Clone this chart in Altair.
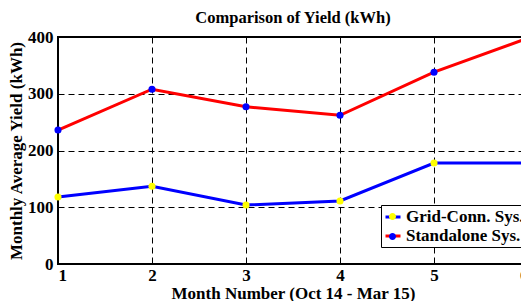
import altair as alt
import pandas as pd

months = [1, 2, 3, 4, 5, 6]
grid_conn = [118, 137, 104, 111, 178, 178]
standalone = [236, 308, 277, 262, 338, 398]
series_names = ["Grid-Conn. Sys.", "Standalone Sys."]
line_colors = ["#0000ff", "#ff0000"]
dot_colors = ["#ffff00", "#0000ff"]

df = pd.DataFrame({
    "month": months * 2,
    "yield": grid_conn + standalone,
    "series": [series_names[0]] * 6 + [series_names[1]] * 6,
})

FONT = "Liberation Serif"
FS = 17

x = alt.X("month:Q", scale=alt.Scale(domain=[1, 6], nice=False),
          axis=alt.Axis(values=months, title="Month Number (Oct 14 - Mar 15)",
                        format="d", titlePadding=2, labelPadding=3))
y = alt.Y("yield:Q", scale=alt.Scale(domain=[0, 400], nice=False),
          axis=alt.Axis(values=[0, 100, 200, 300, 400], title="Monthly Average Yield (kWh)",
                        titlePadding=2, labelPadding=5))

base = alt.Chart(df)

lines = base.mark_line(strokeWidth=3).encode(
    x=x, y=y,
    stroke=alt.Stroke("series:N", scale=alt.Scale(domain=series_names, range=line_colors),
                      legend=alt.Legend(orient="none", legendX=323, legendY=168, title=None,
                                        symbolType="stroke", symbolSize=225, symbolStrokeWidth=3,
                                        strokeColor="black", fillColor="white", padding=3,
                                        labelFont=FONT, labelFontSize=FS, labelFontWeight="bold",
                                        labelColor="black", labelOffset=4, rowPadding=2)),
    detail="series:N",
)

dot_path = "M-0.47,0 A0.47,0.47 0 1,0 0.47,0 A0.47,0.47 0 1,0 -0.47,0 Z"
points = base.mark_point(filled=True, size=50, opacity=1).encode(
    x=x, y=y,
    fill=alt.Fill("series:N", scale=alt.Scale(domain=series_names, range=dot_colors),
                  legend=alt.Legend(orient="none", legendX=323, legendY=168, title=None,
                                    symbolType=dot_path, symbolSize=225, symbolStrokeWidth=0,
                                    symbolOpacity=1, padding=3, labelExpr="''",
                                    labelFont=FONT, labelFontSize=FS, labelFontWeight="bold",
                                    labelColor="transparent", labelOffset=4, rowPadding=2)),
    shape=alt.value("circle"),
)

chart = alt.layer(lines, points).resolve_scale(stroke="independent", fill="independent").properties(
    width=470, height=227,
    title=alt.TitleParams("Comparison of Yield (kWh)", font=FONT, fontSize=16.5,
                          fontWeight="bold", offset=2, color="black"),
    padding={"left": 50, "top": 29, "right": -7, "bottom": 37},
    autosize="none",
).configure_view(stroke="black", strokeWidth=2).configure_axis(
    grid=True, gridColor="black", gridDash=[6, 4], gridWidth=1, gridOpacity=1,
    domain=False, ticks=False,
    labelFont=FONT, labelFontSize=FS, labelFontWeight="bold", labelColor="black",
    titleFont=FONT, titleFontSize=FS, titleFontWeight="bold", titleColor="black",
)

chart.save("out.html", embed_options={"renderer": "svg", "actions": False})
